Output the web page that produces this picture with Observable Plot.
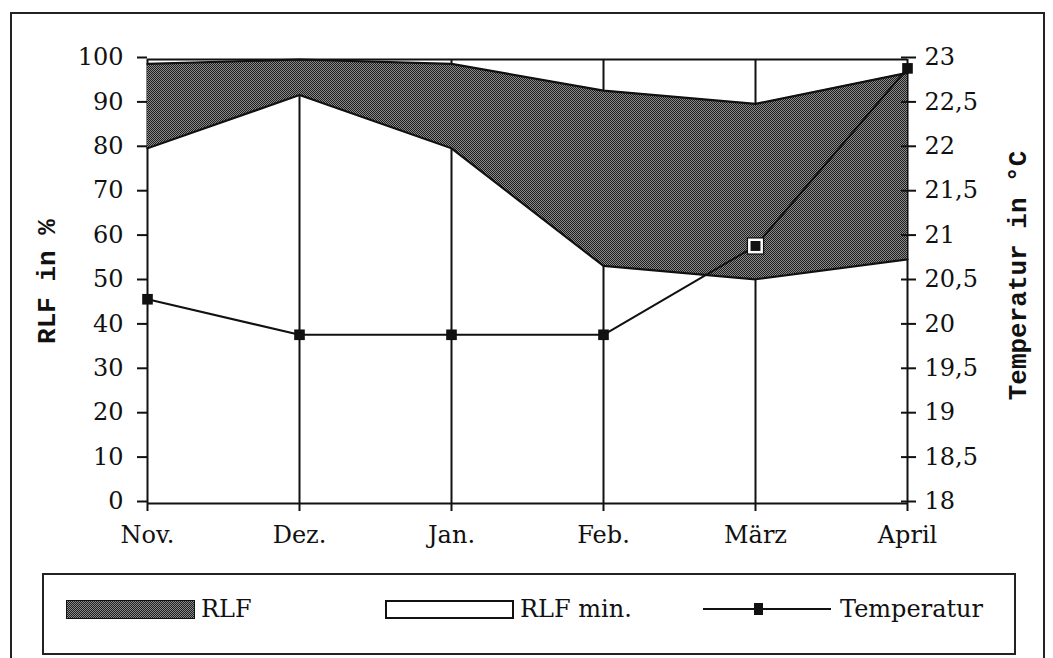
<!DOCTYPE html>
<html>
<head>
<meta charset="utf-8">
<script src="https://cdn.jsdelivr.net/npm/d3@7"></script>
<script src="https://cdn.jsdelivr.net/npm/@observablehq/plot@0.6"></script>
<style>
  html, body { margin: 0; padding: 0; background: #fff; }
  #wrap { position: relative; width: 1053px; height: 658px; overflow: hidden; font-family: "DejaVu Serif", serif; color: #111; }
  #frame { position: absolute; left: 10px; top: 12px; width: 1035px; height: 700px; border: 2px solid #222; box-sizing: border-box; pointer-events: none; }
  #chart { position: absolute; left: 0; top: 0; }
  #legend { position: absolute; left: 42px; top: 573px; width: 974px; height: 82px; border: 2px solid #222; box-sizing: border-box; background: #fff; }
  .item { position: absolute; top: 21px; font-size: 24px; line-height: 26px; display: flex; align-items: center; }
  .sw { display: inline-block; width: 129px; height: 19px; box-sizing: border-box; margin-right: 6px; }
  .stip { background: repeating-conic-gradient(#1e1e1e 0 25%, #8a8a8a 0 50%) 0 0 / 2px 2px; border: 1.5px solid #111; }
  .blank { background: #fff; border: 2px solid #111; }
</style>
</head>
<body>
<div id="wrap">
  <div id="chart"></div>
  <div id="frame"></div>
  <div id="legend">
    <div class="item" style="left:22px"><span class="sw stip"></span>RLF</div>
    <div class="item" style="left:341px"><span class="sw blank"></span>RLF min.</div>
    <div class="item" style="left:659px">
      <svg width="128" height="20" style="margin-right:9px"><line x1="0" y1="10" x2="128" y2="10" stroke="#111" stroke-width="2"/><rect x="51" y="4" width="9" height="12" fill="#111"/></svg>Temperatur
    </div>
  </div>
</div>
<script>
const months = ["Nov.", "Dez.", "Jan.", "Feb.", "März", "April"];
const rlfMax = [99, 100, 99, 93, 90, 97];
const rlfMin = [80, 92, 80, 53.5, 50.5, 55];
const temperatur = [20.3, 19.9, 19.9, 19.9, 20.9, 22.9];
const yTicks = [0, 10, 20, 30, 40, 50, 60, 70, 80, 90, 100];
const tempTickLabels = ["18", "18,5", "19", "19,5", "20", "20,5", "21", "21,5", "22", "22,5", "23"];

const tMin = 18, tScale = 20; // 18..23 °C mapped onto 0..100
const rows = months.map((m, i) => ({month: m, max: rlfMax[i], min: rlfMin[i], temp: temperatur[i], t: (temperatur[i] - tMin) * tScale}));
const marked = rows.filter(d => d.month === "März");

const font = "DejaVu Serif, serif";
const plot = Plot.plot({
  width: 1053,
  height: 565,
  marginLeft: 147,
  marginRight: 146,
  marginTop: 59,
  marginBottom: 62,
  style: {fontFamily: font, fontSize: "24px", color: "#111", background: "transparent"},
  x: {type: "point", domain: months, padding: 0, label: null},
  y: {domain: [0, 100], label: null},
  marks: [
    Plot.ruleX(months, {x: d => d, y1: 0, y2: 100, stroke: "#111", strokeWidth: 2}),
    Plot.areaY(rows, {x: "month", y1: "min", y2: "max", fill: "url(#stip)", stroke: "none"}),
    Plot.line(rows, {x: "month", y: "max", stroke: "#111", strokeWidth: 2.2}),
    Plot.line(rows, {x: "month", y: "min", stroke: "#111", strokeWidth: 2.2}),
    Plot.ruleY([0, 100], {stroke: "#111", strokeWidth: 2}),
    Plot.axisY(yTicks, {anchor: "left", tickSize: 10, tickPadding: 14, tickFormat: d => String(d), strokeWidth: 2, dy: -2, fontSize: 24, label: null}),
    Plot.axisY(yTicks, {anchor: "right", tickSize: 15, tickPadding: 9, dx: -7, dy: -2, tickFormat: d => tempTickLabels[yTicks.indexOf(d)], strokeWidth: 2, fontSize: 24, label: null}),
    Plot.axisX(months, {anchor: "bottom", tickSize: 8, tickPadding: 14, strokeWidth: 2, fontSize: 24, label: null}),
    Plot.line(rows, {x: "month", y: "t", stroke: "#111", strokeWidth: 2}),
    Plot.dot(rows, {x: "month", y: "t", symbol: "square", r: 6, fill: "#111", stroke: "none"}),
    Plot.dot(marked, {x: "month", y: "t", symbol: "square", r: 9.8, fill: "#111", stroke: "none"}),
    Plot.dot(marked, {x: "month", y: "t", symbol: "square", r: 8.4, fill: "#fff", stroke: "none"}),
    Plot.dot(marked, {x: "month", y: "t", symbol: "square", r: 5.6, fill: "#111", stroke: "none"}),
    Plot.text(["RLF in %"], {frameAnchor: "left", text: d => d, rotate: -90, dx: -101, textAnchor: "middle", fontFamily: "Liberation Mono, monospace", fontWeight: "bold", fontSize: 26, fill: "#111"}),
    Plot.text(["Temperatur in °C"], {frameAnchor: "right", text: d => d, rotate: -90, dx: 110, dy: -6, textAnchor: "middle", fontFamily: "Liberation Mono, monospace", fontWeight: "bold", fontSize: 26, fill: "#111"})
  ]
});

// stipple pattern for the RLF band
const ns = "http://www.w3.org/2000/svg";
const defs = document.createElementNS(ns, "defs");
defs.innerHTML = '<pattern id="stip" width="2" height="2" patternUnits="userSpaceOnUse"><rect width="2" height="2" fill="#8a8a8a"/><rect width="1" height="1" fill="#1e1e1e"/><rect x="1" y="1" width="1" height="1" fill="#1e1e1e"/></pattern>';
plot.insertBefore(defs, plot.firstChild);
document.getElementById("chart").appendChild(plot);
</script>
</body>
</html>
